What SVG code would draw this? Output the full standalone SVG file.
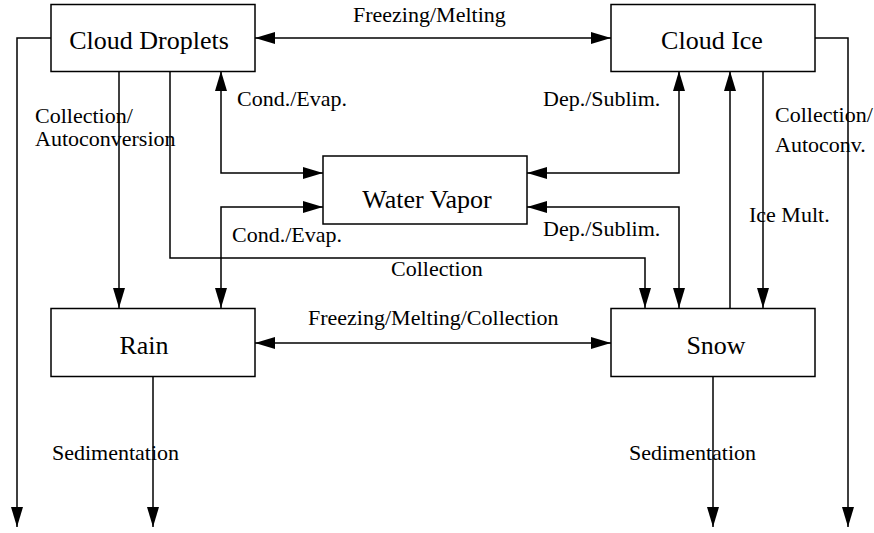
<svg xmlns="http://www.w3.org/2000/svg" width="874" height="533" viewBox="0 0 874 533">
<style>
.box{fill:#fff;stroke:#000;stroke-width:1.5}
.bt{font-family:"Liberation Serif","Times New Roman",serif;font-size:26px;fill:#000;text-anchor:middle}
.lb{font-family:"Liberation Serif","Times New Roman",serif;font-size:22px;fill:#000}
.c{fill:none;stroke:#000;stroke-width:1.5}
.a2{marker-start:url(#ah);marker-end:url(#ah)}
.a1{marker-end:url(#ah)}
</style>
<defs>
<marker id="ah" markerUnits="userSpaceOnUse" markerWidth="20" markerHeight="12" refX="20" refY="6" orient="auto-start-reverse" viewBox="0 0 20 12">
<path d="M0,0 L20,6 L0,12 z" fill="#000"/>
</marker>
</defs>
<g id="connectors">
<path class="c a2" d="M255,38 H611"/>
<path class="c a1" d="M51,38 H17 V527"/>
<path class="c a1" d="M815,38 H848 V527"/>
<path class="c a1" d="M119,71 V308"/>
<path class="c a1" d="M170,71 V258 H645 V308"/>
<path class="c a2" d="M221,71 V173 H323"/>
<path class="c a2" d="M323,207 H221 V308"/>
<path class="c a2" d="M527,173 H679 V71"/>
<path class="c a2" d="M527,207 H679 V308"/>
<path class="c a1" d="M730,308 V71"/>
<path class="c a1" d="M763,71 V308"/>
<path class="c a2" d="M255,343 H611"/>
<path class="c a1" d="M153,376 V527"/>
<path class="c a1" d="M713,376 V527"/>
<text class="lb" x="353" y="22">Freezing/Melting</text>
<text class="lb" x="237" y="106">Cond./Evap.</text>
<text class="lb" x="543" y="106">Dep./Sublim.</text>
<text class="lb" x="35" y="123">Collection/</text>
<text class="lb" x="35" y="146">Autoconversion</text>
<text class="lb" x="775" y="122">Collection/</text>
<text class="lb" x="775" y="152">Autoconv.</text>
<text class="lb" x="232" y="242">Cond./Evap.</text>
<text class="lb" x="543" y="236">Dep./Sublim.</text>
<text class="lb" x="749" y="222">Ice Mult.</text>
<text class="lb" x="391" y="276">Collection</text>
<text class="lb" x="308" y="325">Freezing/Melting/Collection</text>
<text class="lb" x="52" y="460">Sedimentation</text>
<text class="lb" x="629" y="460">Sedimentation</text>
</g>
<g id="cloud-droplets">
<rect class="box" x="51" y="4.5" width="204" height="67"/>
<text class="bt" x="149" y="49">Cloud Droplets</text>
</g>
<g id="cloud-ice">
<rect class="box" x="611" y="4.5" width="204" height="67"/>
<text class="bt" x="712" y="49">Cloud Ice</text>
</g>
<g id="water-vapor">
<rect class="box" x="323" y="156" width="204" height="68"/>
<text class="bt" x="427" y="208">Water Vapor</text>
</g>
<g id="rain">
<rect class="box" x="51" y="308.5" width="204" height="68"/>
<text class="bt" x="144" y="354">Rain</text>
</g>
<g id="snow">
<rect class="box" x="611" y="308.5" width="204" height="68"/>
<text class="bt" x="716" y="354">Snow</text>
</g>
</svg>
